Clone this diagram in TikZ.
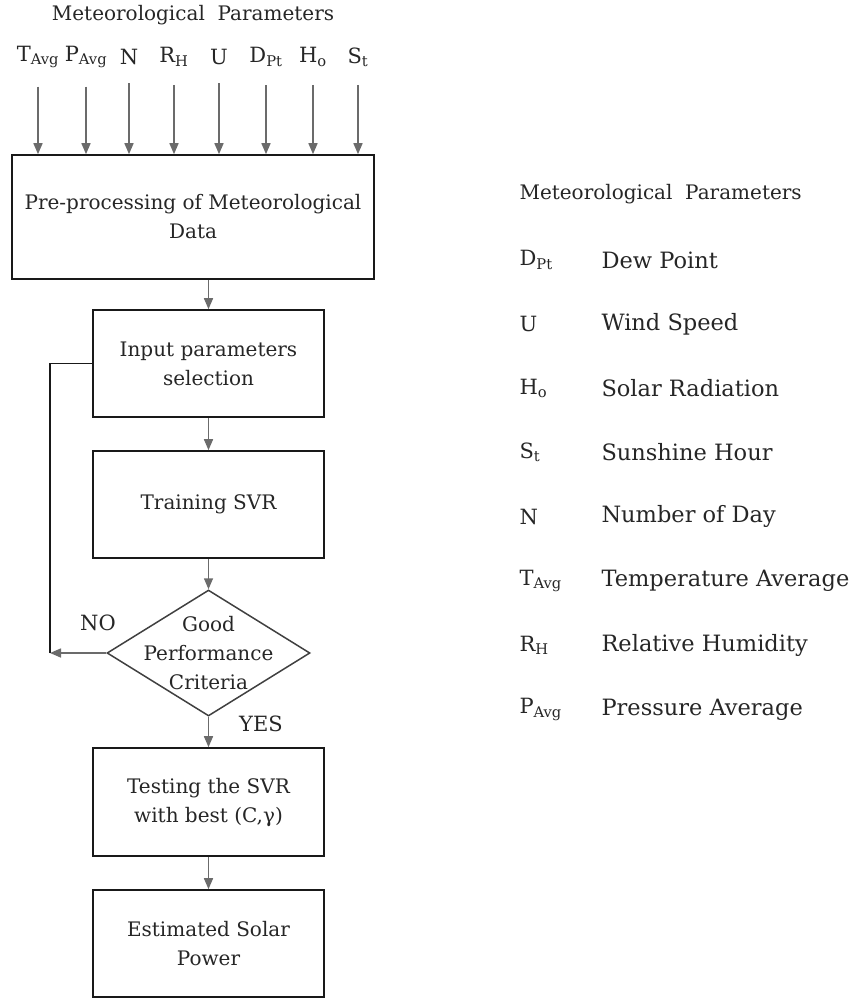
\documentclass[tikz,border=0pt]{standalone}
\usepackage{fontspec}
\setmainfont{DejaVu Serif}
\usetikzlibrary{shapes.geometric,arrows.meta}
\begin{document}
\begin{tikzpicture}[x=1pt,y=-1pt,
  font=\fontsize{20}{29}\selectfont, text=black!85,
  box/.style={draw=black!90, line width=1.6pt, align=center, inner sep=0pt,
    minimum width=231pt, minimum height=107pt},
  arr/.style={draw=black!58, line width=1.5pt, -{Triangle[length=11pt,width=9pt]}},
  loop/.style={draw=black!90, line width=1.6pt},
  par/.style={font=\fontsize{21}{24}\selectfont},
  head/.style={font=\fontsize{20}{24}\selectfont},
  desc/.style={font=\fontsize{22.5}{26}\selectfont}]
\useasboundingbox (0,0) rectangle (856,999);

\node[head] (title) at (193,15) {Meteorological\ \ Parameters};
\foreach \x/\nm/\lab in {38/tavg/T\textsubscript{Avg}, 86/pavg/P\textsubscript{Avg},
  129/n/N, 174/rh/R\textsubscript{H}, 219/u/U, 266/dpt/D\textsubscript{Pt},
  313/ho/H\textsubscript{o}, 358/st/S\textsubscript{t}}
  \node[par] (\nm) at (\x,57) {\lab};

\node[box, minimum width=362pt, minimum height=124pt] (pre) at (193,217)
  {Pre-processing of Meteorological\\Data};
\foreach \nm in {tavg,pavg,n,rh,u,dpt,ho,st}
  \draw[arr, shorten <=15pt] (\nm.south) -- (\nm.south |- pre.north);

\node[box] (inp) at (208.5,363.5) {Input parameters\\selection};
\node[box] (trn) at (208.5,504.5) {Training SVR};
\node[draw=black!75, line width=1.5pt, diamond, inner sep=0pt,
  minimum width=203pt, minimum height=126pt] (crit) at (208.5,653) {};
\node[align=center] (critlbl) at (crit.center) {Good\\Performance\\Criteria};
\node[box, minimum height=108pt] (tst) at (208.5,802) {Testing the SVR\\with best (C,γ)};
\node[box] (est) at (208.5,943.5) {Estimated Solar\\Power};

\draw[arr] (pre.south -| inp.north) -- (inp.north);
\draw[arr] (inp) -- (trn);
\draw[arr] (trn) -- (crit);
\draw[arr] (crit) -- (tst);
\draw[arr] (tst) -- (est);

\coordinate (fb) at (50,653);
\draw[arr] (crit.west) -- (fb);
\draw[loop] (fb) |- (inp.west);
\node[par] (no) at (98,623) {NO};
\node[par] (yes) at (261,724) {YES};

\node[head, anchor=west] (legtitle) at (516,194) {Meteorological\ \ Parameters};
\foreach \i/\sym/\txt in {0/D\textsubscript{Pt}/Dew Point, 1/U/Wind Speed,
  2/H\textsubscript{o}/Solar Radiation, 3/S\textsubscript{t}/Sunshine Hour,
  4/N/Number of Day, 5/T\textsubscript{Avg}/Temperature Average,
  6/R\textsubscript{H}/Relative Humidity, 7/P\textsubscript{Avg}/Pressure Average}
{
  \node[par, anchor=west] (sym\i) at (516,260+64.2*\i) {\sym};
  \node[desc, anchor=west] (txt\i) at (598,260+64.2*\i) {\txt};
}
\end{tikzpicture}
\end{document}
